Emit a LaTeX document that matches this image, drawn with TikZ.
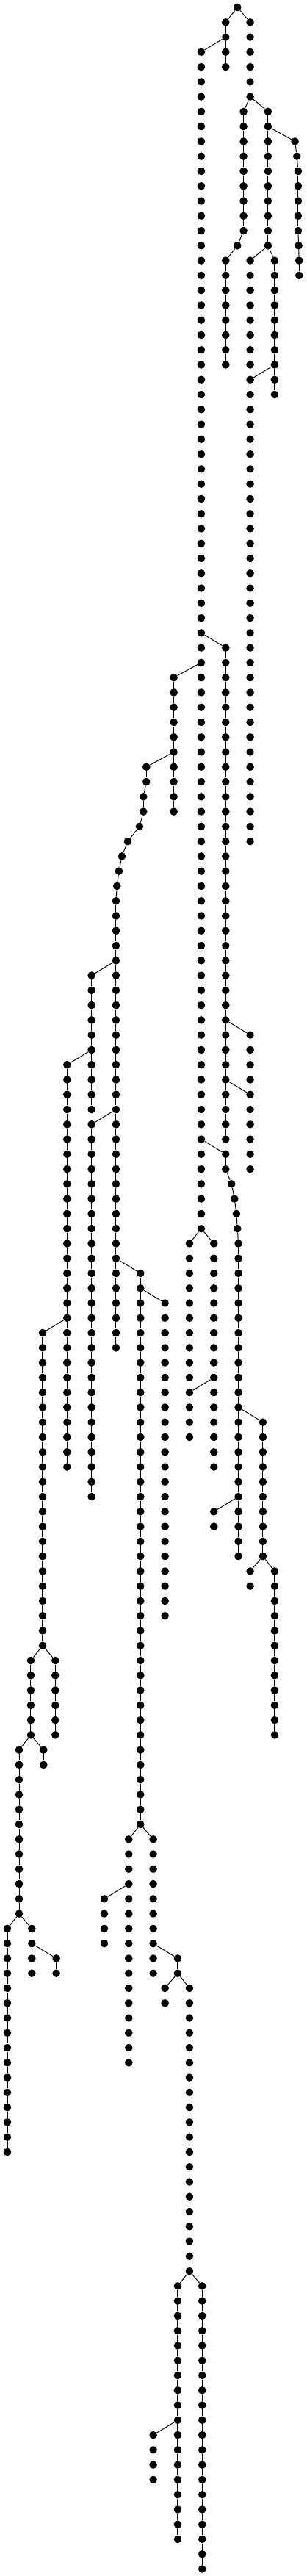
\documentclass[tikz,border=0pt]{standalone}
\usepackage{tikz}

\tikzset{
  dot/.style={circle, fill=black, inner sep=0pt, minimum size=0.265cm},
  tie/.style={line width=0.7pt, black}
}

% column/first level/last level of each straight run of dots
\def\chains{970/0/0, 922/1/4, 1022/1/6, 822/3/82, 995/7/15, 970/16/16,
  922/17/24, 1095/7/16, 1022/17/24, 1122/17/26, 1022/25/56,
  1205/9/9, 1213/10/10, 1218/11/15, 1220/16/16, 1222/17/18,
  922/43/76, 710/45/54, 598/51/52, 586/53/54, 570/55/55, 522/56/56,
  498/57/57, 486/58/58, 478/59/59, 474/60/90, 374/65/74, 274/71/98,
  1022/69/72, 1022/73/78, 374/75/100, 574/85/122, 922/77/78, 946/79/79,
  958/80/80, 966/81/81, 970/82/82, 974/83/104, 774/83/92, 874/83/98,
  774/93/96, 674/87/108, 174/89/110, 874/101/102, 1074/95/104,
  1022/105/106, 1122/105/116, 126/111/116, 226/111/116, 78/117/128,
  178/117/118, 526/123/138, 626/123/132, 426/127/130, 30/129/144,
  130/129/132, 230/131/132, 726/131/132, 674/133/134, 774/133/152,
  726/153/170, 826/153/172, 626/163/166}

% parent/child links that leave a run
\def\links{970-0/922-1, 970-0/1022-1, 922-2/822-3, 1022-6/995-7,
  1022-6/1095-7, 995-15/970-16, 970-16/922-17, 1095-8/1205-9,
  1205-9/1213-10, 1213-10/1218-11, 1218-15/1220-16, 1220-16/1222-17,
  1095-16/1022-17, 1095-16/1122-17, 1122-24/1022-25, 822-42/922-43,
  822-44/710-45, 710-50/598-51, 598-52/586-53, 586-54/570-55,
  570-55/522-56, 522-56/498-57, 498-57/486-58, 486-58/478-59,
  478-59/474-60, 474-64/374-65, 374-70/274-71, 922-68/1022-69,
  922-72/1022-73, 474-74/374-75, 822-76/922-77, 922-78/946-79,
  946-79/958-80, 958-80/966-81, 966-81/970-82, 970-82/974-83,
  822-82/774-83, 822-82/874-83, 474-84/574-85, 574-86/674-87,
  274-88/174-89, 874-92/774-93, 974-94/1074-95, 974-100/874-101,
  1074-104/1022-105, 1074-104/1122-105, 174-110/126-111,
  174-110/226-111, 126-116/78-117, 126-116/178-117, 574-122/526-123,
  574-122/626-123, 526-126/426-127, 78-128/30-129, 78-128/130-129,
  130-130/230-131, 626-130/726-131, 726-132/674-133, 726-132/774-133,
  774-152/726-153, 774-152/826-153, 726-162/626-163}

\begin{document}
\begin{tikzpicture}[x=0.008333cm, y=-0.50675cm]
  \useasboundingbox (0,-0.4933) rectangle (1254,172.47);

  \foreach \c/\a/\b in \chains {
    \foreach \l in {\a,...,\b}
      \node[dot] (n\c-\l) at (\c,\l) {};
  }

  \foreach \c/\a/\b in \chains {
    \pgfmathtruncatemacro\aa{\a+1}
    \ifnum\b>\a
      \foreach \l [remember=\l as \k (initially \a)] in {\aa,...,\b}
        \draw[tie] (n\c-\k) -- (n\c-\l);
    \fi
  }

  \foreach \p/\q in \links
    \draw[tie] (n\p) -- (n\q);
\end{tikzpicture}
\end{document}
